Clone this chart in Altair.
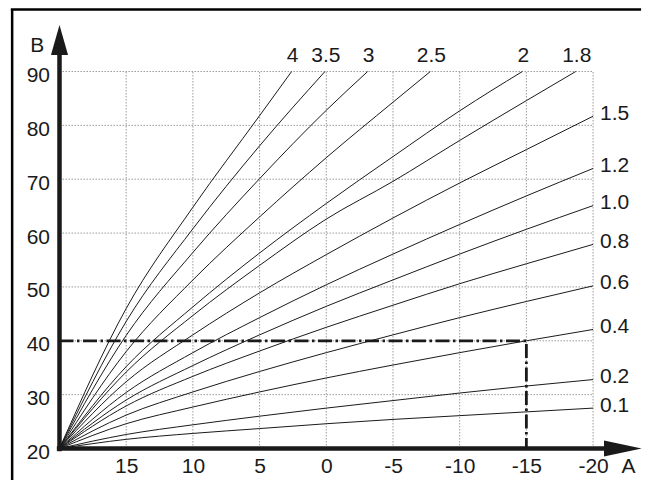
import altair as alt
import pandas as pd

# ---------------- data ----------------
CURVE_LABELS = ["4", "3.5", "3", "2.5", "2", "1.8", "1.5", "1.2", "1.0", "0.8", "0.6", "0.4", "0.2", "0.1"]
OUTDOOR_FULL = [20, 15, 10, 5, 0, -5, -10, -15, -20]

X_4 = [20, 15, 10, 5, 2.6]
Y_4 = [20, 46, 64.8, 81.8, 90]
X_35 = [20, 15, 10, 5, 0.1]
Y_35 = [20, 43.6, 60.8, 76.2, 90]
X_3 = [20, 15, 10, 5, 0, -3.1]
Y_3 = [20, 41, 56.4, 70.1, 82.8, 90]
X_25 = [20, 15, 10, 5, 0, -5, -7.8]
Y_25 = [20, 38, 51.3, 63, 74, 84.3, 90]
X_2 = [20, 15, 10, 5, 0, -5, -10, -14.7]
Y_2 = [20, 35.2, 46.3, 56.3, 65.5, 74.2, 82.7, 90]
X_18 = [20, 15, 10, 5, 0, -5, -10, -15, -18.7]
Y_18 = [20, 34.2, 44.7, 54, 62.6, 69.6, 77.2, 84.6, 90]
Y_15 = [20, 32.4, 41.1, 48.9, 56, 62.8, 69.3, 75.5, 81.7]
Y_12 = [20, 30.4, 37.8, 44.3, 50.4, 56.1, 61.6, 66.9, 72]
Y_10 = [20, 29, 35.4, 41.1, 46.4, 51.3, 56.1, 60.7, 65.1]
Y_08 = [20, 27.9, 33.4, 38.1, 42.5, 46.6, 50.6, 54.3, 57.9]
Y_06 = [20, 26.2, 30.5, 34.3, 37.8, 41.1, 44.3, 47.3, 50.2]
Y_04 = [20, 24.6, 27.7, 30.5, 33.1, 35.5, 37.8, 40, 42.1]
Y_02 = [20, 22.6, 24.4, 26, 27.5, 28.9, 30.3, 31.6, 32.8]
Y_01 = [20, 21.7, 22.8, 23.7, 24.6, 25.4, 26.1, 26.8, 27.5]

TOP_CURVES = ["4", "3.5", "3", "2.5", "2", "1.8"]
RIGHT_CURVES = ["1.5", "1.2", "1.0", "0.8", "0.6", "0.4", "0.2", "0.1"]

REF_X = [20, -15, -15]
REF_Y = [40, 40, 20]

X_TICKS = [15, 10, 5, 0, -5, -10, -15, -20]
Y_TICKS = [20, 30, 40, 50, 60, 70, 80, 90]
GRID_X = [15, 10, 5, 0, -5, -10, -15, -20]
GRID_Y = [30, 40, 50, 60, 70, 80, 90]

# scale extents (data units)
X_LEFT, X_RIGHT = 20, -23.6
Y_BOTTOM, Y_TOP = 20, 98.6

# ---------------- tables ----------------
curve_xy = {
    "4": (X_4, Y_4), "3.5": (X_35, Y_35), "3": (X_3, Y_3), "2.5": (X_25, Y_25),
    "2": (X_2, Y_2), "1.8": (X_18, Y_18),
    "1.5": (OUTDOOR_FULL, Y_15), "1.2": (OUTDOOR_FULL, Y_12), "1.0": (OUTDOOR_FULL, Y_10),
    "0.8": (OUTDOOR_FULL, Y_08), "0.6": (OUTDOOR_FULL, Y_06), "0.4": (OUTDOOR_FULL, Y_04),
    "0.2": (OUTDOOR_FULL, Y_02), "0.1": (OUTDOOR_FULL, Y_01),
}
rows = []
for lab in CURVE_LABELS:
    xs, ys = curve_xy[lab]
    for i, (xv, yv) in enumerate(zip(xs, ys)):
        rows.append({"curve": lab, "x": xv, "y": yv, "i": i})
curves_df = pd.DataFrame(rows)

top_lab = pd.DataFrame([{"label": l, "x": curve_xy[l][0][-1], "y": curve_xy[l][1][-1]} for l in TOP_CURVES])
right_lab = pd.DataFrame([{"label": l, "x": curve_xy[l][0][-1], "y": curve_xy[l][1][-1]} for l in RIGHT_CURVES])

ref_df = pd.DataFrame({"x": REF_X, "y": REF_Y, "i": list(range(len(REF_X)))})
vgrid = pd.DataFrame({"x": GRID_X, "y": [20] * len(GRID_X), "y2": [90] * len(GRID_X)})
hgrid = pd.DataFrame({"y": GRID_Y, "x": [20] * len(GRID_Y), "x2": [-20] * len(GRID_Y)})

FONT = "Liberation Sans"
INK = "#1a1a1a"
FS = 21

xscale = alt.Scale(domain=[X_RIGHT, X_LEFT], reverse=True, nice=False, zero=False)
yscale = alt.Scale(domain=[Y_BOTTOM, Y_TOP], nice=False, zero=False)

xaxis = alt.Axis(values=X_TICKS, title="A", domain=False, ticks=False, tickSize=0, grid=False,
                 labelPadding=7.5, labelFontSize=FS, labelFont=FONT, labelColor=INK,
                 labelExpr="'' + datum.value", labelFlush=False, labelOverlap=False,
                 titleX=568.5, titleY=24.2, titleBaseline="alphabetic", titleAlign="center",
                 titleFontWeight="normal", titleFontSize=FS, titleFont=FONT, titleColor=INK)
yaxis = alt.Axis(values=Y_TICKS, title="B", domain=False, ticks=False, tickSize=0, grid=False,
                 labelPadding=10, labelOffset=4, labelFontSize=FS, labelFont=FONT, labelColor=INK,
                 labelFlush=False, labelOverlap=False,
                 titleAngle=0, titleX=-22.8, titleY=26.5, titleBaseline="alphabetic", titleAlign="center",
                 titleFontWeight="normal", titleFontSize=FS, titleFont=FONT, titleColor=INK)


def X(f="x"):
    return alt.X(f"{f}:Q", scale=xscale, axis=xaxis)


def Y(f="y"):
    return alt.Y(f"{f}:Q", scale=yscale, axis=yaxis)


grid_v = alt.Chart(vgrid).mark_rule(color="#9a9a9a", strokeWidth=1, strokeDash=[1.5, 1.5]).encode(
    x=X(), y=Y(), y2="y2:Q")
grid_h = alt.Chart(hgrid).mark_rule(color="#9a9a9a", strokeWidth=1, strokeDash=[1.5, 1.5]).encode(
    x=X(), x2="x2:Q", y=Y())

curves = alt.Chart(curves_df).mark_line(interpolate="monotone", color=INK, strokeWidth=1).encode(
    x=X(), y=Y(), detail="curve:N", order="i:Q")

ref = alt.Chart(ref_df).mark_line(color=INK, strokeWidth=2.8, strokeDash=[14, 3.5, 2.5, 3.5]).encode(
    x=X(), y=Y(), order="i:Q")

# axes with arrows
AX_Y_END, AX_X_END = 93.5, -21.0
Y_ARROW_C, X_ARROW_C = 95.85, -22.23
axis_lines = pd.DataFrame({"x": [20, 20.2], "x2": [20, AX_X_END], "y": [19.5, 20], "y2": [AX_Y_END, 20]})
axes = alt.Chart(axis_lines).mark_rule(color=INK, strokeWidth=4.5).encode(x=X(), x2="x2:Q", y=Y(), y2="y2:Q")

y_arrow = alt.Chart(pd.DataFrame({"x": [20], "y": [Y_ARROW_C]})).mark_point(
    shape="M 0 -1 L 0.57 1 L -0.57 1 Z", size=900, filled=True, color=INK, opacity=1, strokeWidth=0
).encode(x=X(), y=Y())
x_arrow = alt.Chart(pd.DataFrame({"x": [X_ARROW_C], "y": [20]})).mark_point(
    shape="M 1 0 L -1 0.43 L -1 -0.43 Z", size=1421, filled=True, color=INK, opacity=1, strokeWidth=0
).encode(x=X(), y=Y())

# outer frame (top and left border of the original figure)
FRAME_X, FRAME_TOP, FRAME_BOTTOM = 23.55, 101.5, 12.0
frame_df = pd.DataFrame({"x": [FRAME_X, FRAME_X + 0.1], "x2": [FRAME_X, X_RIGHT],
                         "y": [FRAME_BOTTOM, FRAME_TOP], "y2": [FRAME_TOP, FRAME_TOP]})
frame = alt.Chart(frame_df).mark_rule(color="black", strokeWidth=2.5).encode(x=X(), x2="x2:Q", y=Y(), y2="y2:Q")

top_text = alt.Chart(top_lab).mark_text(align="center", baseline="alphabetic", dx=1, dy=-9.3,
                                        fontSize=FS, font=FONT, color=INK).encode(x=X(), y=Y(), text="label:N")
right_text = alt.Chart(right_lab).mark_text(align="left", baseline="alphabetic", dx=7, dy=3.5,
                                            fontSize=FS, font=FONT, color=INK).encode(x=X(), y=Y(), text="label:N")

chart = alt.layer(grid_v, grid_h, curves, ref, axes, y_arrow, x_arrow, frame, top_text, right_text).properties(
    width=581.6, height=423.3,
    padding={"left": 51.5, "top": 17.2, "right": 1, "bottom": 31},
    autosize=alt.AutoSizeParams(type="none"),
    background="white",
).configure_view(stroke=None)

chart.save("out.html", embed_options={"renderer": "svg", "actions": False})
